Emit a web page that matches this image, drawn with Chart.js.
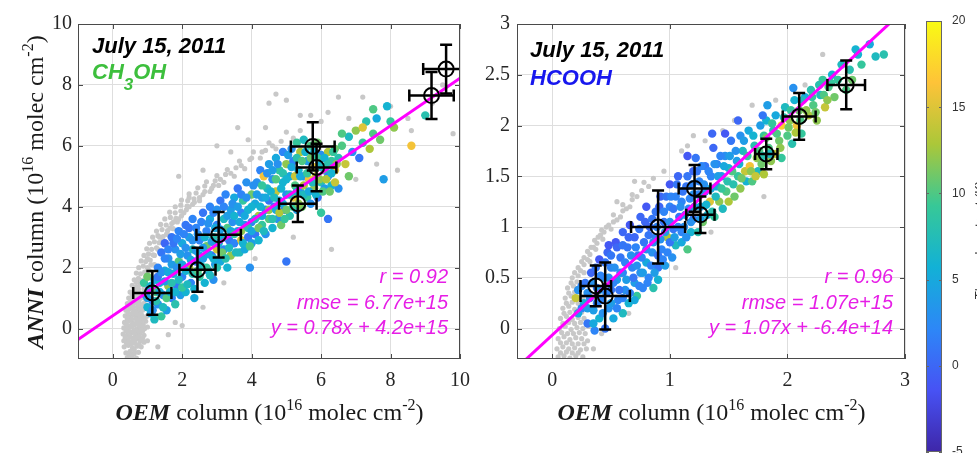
<!DOCTYPE html>
<html>
<head>
<meta charset="utf-8">
<script src="https://cdn.jsdelivr.net/npm/chart.js@4.4.1/dist/chart.umd.min.js"></script>
<style>
  body { margin: 0; background: #fff; width: 977px; height: 453px; overflow: hidden; position: relative; }
  canvas { position: absolute; top: 0; }
  #leftChart { left: 0; }
  #rightChart { left: 480px; }
  #cbar { left: 920px; }
</style>
</head>
<body>
<canvas id="leftChart" width="480" height="453"></canvas>
<canvas id="rightChart" width="440" height="453"></canvas>
<canvas id="cbar" width="57" height="453"></canvas>
<script>
// ---- CH3OH panel (values in 1e16 molec cm-2) ----
// colored retrievals: [OEM, ANNI, thermal contrast K]
const ch3ohCloud = [
  [0.9,1.5,9],[0.95,1.1,3],[1.0,0.7,6],[1.0,1.7,11],[1.05,1.3,2],[1.1,0.5,5],[1.15,0.9,1],[1.2,1.6,4],[1.2,0.3,7],[1.25,1.2,10],
  [1.3,2.0,2],[1.3,0.8,3],[1.35,1.5,6],[1.4,2.5,1],[1.4,0.4,9],[1.45,1.1,2],[1.5,1.9,5],[1.5,2.8,0],[1.55,0.6,4],[1.6,1.4,12],[1.6,2.3,3],
  [1.7,1.0,2],[1.7,3.0,1],[1.75,1.8,6],[1.8,2.6,3],[1.8,0.8,8],[1.85,1.4,1],[1.9,2.2,10],[1.9,3.2,2],[1.95,1.1,4],[2.0,2.8,5],[2.0,1.7,2],
  [2.1,3.4,1],[2.1,1.2,6],[2.15,2.4,3],[2.2,2.0,13],[2.2,3.0,4],[2.25,1.5,2],[2.3,3.6,2],[2.3,2.6,7],[2.35,1.0,5],[2.4,2.2,1],[2.45,3.1,3],[2.5,1.7,9],[2.5,2.9,2],
  [2.6,3.8,1],[2.6,2.3,4],[2.65,1.5,6],[2.7,3.2,2],[2.7,2.7,11],[2.75,1.9,3],[2.8,3.6,5],[2.8,4.0,2],[2.85,2.4,1],[2.9,3.0,8],[2.9,1.6,3],[2.95,2.1,4],[3.0,3.4,2],[3.0,2.6,14],
  [3.1,4.2,1],[3.1,2.2,5],[3.15,3.0,3],[3.2,3.6,7],[3.2,2.6,2],[3.25,4.4,2],[3.3,3.3,10],[3.3,2.0,6],[3.35,2.9,1],[3.4,3.9,4],[3.4,2.4,12],[3.45,3.5,3],[3.5,4.3,5],[3.5,2.8,2],
  [3.6,3.2,4],[3.6,4.6,1],[3.65,2.5,7],[3.7,3.8,2],[3.7,2.9,15],[3.75,4.2,9],[3.8,3.4,3],[3.8,2.6,5],[3.85,4.8,3],[3.9,3.0,1],[3.9,3.9,6],[3.95,2.0,3],[4.0,4.4,11],[4.0,3.5,2],[4.0,2.8,4],
  [4.1,4.1,5],[4.1,3.1,1],[4.15,4.8,3],[4.2,3.7,13],[4.2,2.9,6],[4.25,5.2,2],[4.3,4.3,4],[4.3,3.4,9],[4.35,5.0,16],[4.4,3.9,2],[4.4,3.1,3],[4.45,4.6,7],[4.5,5.4,4],[4.5,3.6,10],[4.5,4.2,1],
  [4.6,4.9,3],[4.6,3.3,6],[4.65,4.0,2],[4.7,5.6,5],[4.7,4.5,14],[4.75,3.6,3],[4.8,5.2,9],[4.8,4.2,4],[4.85,3.4,11],[4.9,5.8,2],[4.9,4.8,6],[4.95,3.9,1],[5.0,5.4,12],[5.0,4.4,3],[5.0,2.2,1],
  [5.1,5.0,5],[5.1,3.7,8],[5.15,5.9,3],[5.2,4.3,15],[5.2,5.5,2],[5.25,4.7,10],[5.3,6.1,9],[5.3,3.9,4],[5.35,5.2,6],[5.4,4.5,2],[5.4,5.8,13],[5.45,4.0,11],[5.5,5.0,3],[5.5,6.2,7],
  [5.6,4.3,9],[5.6,5.5,4],[5.65,4.9,16],[5.7,6.0,10],[5.7,4.1,3],[5.75,5.3,2],[5.8,4.6,12],[5.8,5.8,6],[5.85,5.0,14],[5.9,4.3,1],[5.9,6.1,11],[5.95,5.4,5],[6.0,4.8,8],[6.0,5.7,3],
  [6.1,5.2,10],[6.1,4.6,4],[6.2,5.8,13],[6.2,5.0,2],[6.3,5.5,9],[6.3,4.7,6],[6.4,5.9,11],[6.4,5.2,15],[6.5,4.6,3],[6.5,5.6,8],[6.2,3.6,1],[6.0,3.8,9],
  [6.6,6.0,10],[6.7,5.4,14],[6.8,6.3,7],[6.8,5.0,11],[6.9,5.8,3],[7.0,6.5,12],[7.1,5.6,1],[7.2,6.1,9],[7.3,6.8,8],[7.4,5.9,13],[7.5,6.4,10],[7.6,6.9,5],
  [7.7,6.2,11],[7.8,4.9,4],[7.9,7.3,6],[8.0,6.8,9],[8.1,6.6,12],[8.6,6.0,16],[9.0,7.0,8],[7.2,6.6,15],[6.6,6.4,10],[7.5,7.2,10],
  [1.0,1.0,4],[1.1,1.4,6],[1.15,0.6,3],[1.25,0.9,8],[1.3,1.7,1],[1.35,1.2,5],[1.4,1.85,3],[1.45,0.7,7],[1.5,1.55,4],[1.5,2.3,2],[1.55,1.0,10],[1.6,1.85,5],
  [1.6,2.6,2],[1.65,1.2,6],[1.7,2.1,4],[1.7,1.5,8],[1.75,2.8,1],[1.8,1.2,6],[1.85,2.0,3],[1.85,2.95,2],[1.9,1.6,7],[1.95,2.45,4],[2.0,1.35,9],[2.0,2.1,5],
  [2.05,3.1,2],[2.1,1.9,6],[2.1,2.65,3],[2.15,1.45,7],[2.2,3.3,1],[2.25,2.25,5],[2.3,1.8,8],[2.3,2.9,3],[2.35,1.3,6],[2.4,2.55,4],[2.4,3.3,2],[2.45,1.9,10],
  [2.5,2.4,5],[2.55,3.5,2],[2.55,2.05,7],[2.6,2.65,4],[2.65,3.0,6],[2.7,2.0,9],[2.75,2.45,5],[2.75,3.45,3],[2.8,1.75,7],[2.85,2.85,4],[2.9,3.8,2],[2.9,2.3,6],
  [2.95,3.3,5],[3.0,2.0,8],[3.0,3.9,3],[3.05,2.8,6],[3.1,3.25,4],[3.15,2.5,11],[3.2,4.0,2],[3.2,3.0,6],[3.25,2.3,8],[3.3,3.7,4],[3.35,2.65,7],[3.4,3.2,5],
  [3.45,4.1,3],[3.5,3.7,6],[3.5,3.1,9],[3.55,2.5,7],[3.6,4.0,4],[3.65,3.5,5],[3.7,4.4,2],[3.7,3.2,12],[3.75,2.8,6],[3.8,3.7,5],[3.85,4.3,3],[3.9,3.3,8],
  [3.95,2.7,10],[4.0,4.0,6],[4.0,3.2,5],[4.05,4.7,3],[4.1,3.6,7],[4.15,4.4,4],[4.2,3.3,11],[4.25,4.0,6],[4.3,3.7,5],[4.3,4.7,9],[4.35,3.2,7],[4.4,4.3,5],
  [4.45,5.1,3],[4.5,3.9,12],[4.55,4.5,6],[4.6,3.6,8],[4.6,5.2,4],[4.65,4.3,7],[4.7,3.9,5],[4.7,4.9,10],[4.75,5.4,3],[4.8,3.8,13],[4.85,4.6,6],[4.9,5.1,8],
  [4.9,4.1,5],[4.95,3.6,9],[5.0,4.9,6],[5.0,3.9,11],[5.05,5.7,4],[5.1,4.4,7],[5.15,5.3,5],[5.2,4.0,9],[5.25,5.0,14],[5.3,4.5,6],[5.3,5.6,8],[5.35,4.1,12],
  [5.4,5.0,5],[5.45,5.5,10],[5.5,4.4,7],[5.5,4.7,13],[5.55,5.8,6],[5.6,5.1,9],[5.65,4.5,5],[5.7,5.6,11],[5.75,4.8,7],[5.8,5.3,15],[5.85,4.4,6],[5.9,5.6,9],
  [5.95,4.9,12],[6.0,5.3,7],[6.05,4.5,10],[6.1,5.6,6],[6.15,4.9,13],[6.2,5.4,8],[6.25,4.5,11],[6.3,5.1,6],[6.35,5.8,9],[6.4,4.8,14],[6.45,5.4,12]
];
// retrievals without thermal contrast (gray): [OEM, ANNI]
const ch3ohGray = [
  [0.42,-0.95],[0.55,-0.9],[0.68,-0.97],[0.38,-0.8],[0.5,-0.75],[0.62,-0.82],[0.74,-0.78],
  [0.33,-0.6],[0.45,-0.55],[0.57,-0.63],[0.7,-0.58],[0.82,-0.6],[0.32,-0.4],[0.44,-0.38],[0.56,-0.42],[0.68,-0.35],[0.8,-0.4],[0.9,-0.45],
  [0.3,-0.18],[0.42,-0.22],[0.54,-0.15],[0.66,-0.2],[0.78,-0.17],[0.9,-0.22],[0.32,0.02],[0.44,0.0],[0.56,0.05],[0.68,-0.02],[0.8,0.03],[0.92,0.0],[1.0,0.05],
  [0.34,0.2],[0.46,0.25],[0.58,0.18],[0.7,0.22],[0.82,0.2],[0.95,0.24],[0.36,0.42],[0.48,0.38],[0.6,0.45],[0.72,0.4],[0.84,0.43],[0.98,0.4],
  [0.38,0.6],[0.5,0.65],[0.62,0.58],[0.74,0.62],[0.86,0.6],[0.42,0.82],[0.54,0.78],[0.66,0.85],[0.78,0.8],[0.9,0.83],
  [0.46,1.0],[0.58,1.05],[0.7,0.98],[0.82,1.02],[0.5,1.2],[0.62,1.25],[0.74,1.18],[0.56,1.42],[0.68,1.38],[0.8,1.45],
  [0.62,1.6],[0.74,1.65],[0.86,1.58],[0.68,1.82],[0.8,1.8],[0.92,1.85],[0.75,2.0],[0.88,2.05],[1.0,2.0],[0.82,2.22],[0.95,2.2],[1.08,2.25],
  [0.9,2.4],[1.03,2.45],[1.16,2.42],[0.98,2.62],[1.12,2.6],[1.26,2.65],[1.06,2.8],[1.2,2.85],[1.34,2.82],
  [1.15,3.0],[1.3,3.05],[1.45,3.02],[1.6,3.08],[1.26,3.2],[1.42,3.25],[1.58,3.22],[1.74,3.28],[1.38,3.42],[1.54,3.4],[1.7,3.45],[1.86,3.5],
  [1.5,3.6],[1.66,3.65],[1.82,3.62],[1.98,3.7],[1.64,3.82],[1.8,3.8],[1.96,3.86],[2.12,3.9],[1.8,4.0],[1.96,4.05],[2.14,4.02],[2.3,4.08],
  [1.98,4.22],[2.16,4.2],[2.34,4.26],[2.5,4.3],[2.2,4.42],[2.4,4.45],[2.6,4.4],[2.8,4.5],[2.45,4.62],[2.65,4.68],[2.85,4.6],[3.05,4.7],
  [2.7,4.82],[2.95,4.85],[3.2,4.8],[3.0,5.02],[3.25,5.06],[3.5,5.0],[3.3,5.22],[3.55,5.28],[3.8,5.25],[3.65,5.5],[3.95,5.55],[4.25,5.6],
  [4.05,5.8],[4.4,5.85],[4.7,5.9],[4.5,6.1],[4.85,6.15],[5.2,6.25],[5.0,6.45],[5.4,6.5],
  [1.9,5.0],[2.6,5.2],[3.0,6.0],[3.6,6.6],[4.5,7.4],[5.0,7.5],[5.4,7.0],[6.0,6.8],[6.5,7.6],[7.2,7.6],[8.0,7.3],[9.5,8.0],[8.6,6.5],[9.8,6.4],
  [7.6,5.4],[8.2,5.2],[6.3,2.6],[4.1,2.3],[3.2,1.5],[2.6,0.7],[1.8,0.2],[1.6,-0.2],[1.0,-0.4],[1.3,-0.6],[4.7,7.7],[3.4,5.8],[6.8,6.9],
  [2.2,4.3],[5.7,7.0],[6.2,7.1],[4.4,6.6],[3.9,6.2],[2.0,0.1],[5.2,3.0],[7.0,4.9],[8.5,6.9],[9.2,7.4],
  [0.48,-0.85],[0.62,-0.7],[0.4,-0.48],[0.52,-0.5],[0.64,-0.48],[0.76,-0.52],[0.36,-0.3],[0.5,-0.28],[0.62,-0.3],[0.74,-0.27],[0.86,-0.32],
  [0.38,-0.08],[0.5,-0.1],[0.62,-0.07],[0.74,-0.1],[0.86,-0.08],[0.4,0.12],[0.52,0.1],[0.64,0.13],[0.76,0.1],[0.88,0.12],
  [0.42,0.32],[0.54,0.3],[0.66,0.33],[0.78,0.3],[0.9,0.32],[0.44,0.52],[0.56,0.5],[0.68,0.53],[0.8,0.5],[0.48,0.72],[0.6,0.7],[0.72,0.73],[0.84,0.7],
  [0.52,0.92],[0.64,0.9],[0.76,0.93],[0.56,1.12],[0.68,1.1],[0.8,1.13],[0.62,1.32],[0.74,1.3],[0.68,1.52],[0.8,1.52],
  [1.0,2.3],[1.1,2.1],[1.2,2.4],[1.3,2.6],[1.35,3.0],[1.45,2.9],[1.55,3.1],[1.65,3.3],[1.75,3.5],[1.9,3.6],[2.05,3.8],[2.2,4.0],[2.35,4.15],
  [2.5,4.2],[2.65,4.5],[2.9,4.7],[3.1,4.9],[3.4,5.1],[3.7,5.35],[4.0,5.6],[4.3,5.8],[4.6,6.0],[0.95,1.7],[0.9,1.3],[1.05,1.9],[1.2,2.1],[0.9,1.0],[0.95,0.75]
];
const ch3ohMeanX = [1.14, 2.44, 3.05, 5.33, 5.76, 5.87, 9.18, 9.6];
const ch3ohMeanY = [1.17, 1.93, 3.08, 4.1, 5.98, 5.29, 7.65, 8.52];
const ch3ohErrX = [0.55, 0.52, 0.64, 0.54, 0.63, 0.57, 0.64, 0.66];
const ch3ohErrY = [0.72, 0.72, 0.75, 0.6, 0.79, 0.78, 0.77, 0.8];
const ch3ohFitX = [-1, 10];
const ch3ohFitY = [-0.36, 8.22];
const ch3ohStats = ['r = 0.92', 'rmse = 6.77e+15', 'y = 0.78x + 4.2e+15'];

// ---- HCOOH panel ----
const hcoohCloud = [
  [0.2,0.3,14],[0.22,0.15,5],[0.25,0.42,2],[0.27,0.25,6],[0.3,0.05,1],[0.3,0.35,3],
  [0.33,0.55,0],[0.35,0.18,4],[0.36,-0.02,2],[0.38,0.4,1],[0.4,0.68,-1],[0.4,0.1,6],[0.42,0.28,2],[0.44,0.5,3],[0.45,0.0,1],
  [0.47,0.75,0],[0.48,0.2,3],[0.5,0.38,1],[0.5,0.6,2],[0.52,0.1,5],[0.54,0.85,-1],[0.55,0.48,4],[0.56,0.28,2],[0.58,0.7,1],[0.6,0.95,0],[0.6,0.15,7],[0.6,0.55,2],
  [0.62,0.38,3],[0.64,0.8,1],[0.65,0.25,6],[0.66,1.02,-1],[0.68,0.6,2],[0.7,0.45,4],[0.7,0.9,0],[0.72,0.32,9],[0.73,0.72,1],[0.75,1.1,0],[0.75,0.55,3],
  [0.77,0.4,2],[0.78,0.85,1],[0.8,0.65,5],[0.8,1.2,-1],[0.82,0.5,2],[0.83,1.0,0],[0.85,0.75,3],[0.86,0.4,8],[0.88,1.15,1],[0.88,0.9,2],[0.9,0.6,1],[0.9,0.48,6],
  [0.92,1.3,0],[0.93,0.78,2],[0.95,1.05,1],[0.96,0.62,4],[0.98,0.9,13],[1.0,1.42,-1],[1.0,1.2,2],[1.02,0.7,3],[1.03,0.98,1],[1.05,1.3,2],[1.05,0.82,7],
  [1.07,1.5,0],[1.08,1.1,1],[1.1,0.85,5],[1.1,1.25,2],[1.12,1.0,3],[1.14,1.4,1],[1.15,0.78,10],[1.16,1.18,2],[1.18,0.95,6],[1.2,1.55,0],[1.2,1.32,3],[1.2,1.08,1],
  [1.22,1.68,1],[1.24,0.95,8],[1.25,1.45,2],[1.26,1.2,4],[1.28,1.05,11],[1.3,1.6,1],[1.3,1.35,3],[1.32,1.12,6],[1.34,1.25,15],[1.35,1.5,2],
  [1.37,1.78,0],[1.38,1.1,9],[1.4,1.4,5],[1.4,1.62,2],[1.42,1.25,12],[1.44,1.5,4],[1.45,1.18,7],[1.47,1.7,3],[1.48,1.35,10],[1.5,1.58,6],[1.5,1.25,13],
  [1.52,1.85,1],[1.54,1.42,8],[1.55,1.3,11],[1.57,1.65,4],[1.58,1.5,9],[1.6,1.9,3],[1.6,1.38,12],[1.62,1.75,7],[1.64,1.55,14],[1.65,1.45,6],
  [1.67,1.95,5],[1.68,1.6,16],[1.7,1.45,10],[1.72,1.8,8],[1.74,1.68,12],[1.75,1.55,7],[1.77,2.0,4],[1.78,1.62,11],[1.8,1.9,9],[1.8,1.52,13],
  [1.82,2.05,6],[1.84,1.78,10],[1.86,1.65,12],[1.88,1.95,8],[1.9,2.1,5],[1.9,1.72,14],[1.93,1.85,11],[1.95,2.0,17],[1.95,1.68,9],
  [1.98,2.18,7],[2.0,1.9,10],[2.02,2.05,12],[2.04,1.82,8],[2.06,2.25,6],[2.08,2.0,16],[2.1,2.15,11],[2.12,1.92,9],[2.15,2.28,5],
  [2.18,2.1,13],[2.2,2.35,8],[2.22,2.2,10],[2.25,2.05,12],[2.28,2.3,7],[2.3,2.45,9],[2.32,2.18,14],[2.35,2.38,10],[2.38,2.5,6],[2.4,2.28,11],
  [2.43,2.45,9],[2.46,2.6,7],[2.5,2.35,10],[2.53,2.55,8],[2.55,2.45,11],[2.6,2.7,6],[2.63,2.6,9],[2.7,2.8,5],[2.75,2.68,7],[2.82,2.7,8],[2.58,2.75,6],
  [1.36,1.92,0],[1.47,1.92,-1],[1.58,2.05,0],[1.79,2.1,1],[1.83,2.2,4],[2.05,2.37,3],[1.15,1.7,-1],[0.48,0.82,-1],
  [0.22,0.38,3],[0.25,0.2,2],[0.28,0.45,1],[0.3,0.2,4],[0.32,0.3,2],[0.34,0.45,3],[0.35,0.05,5],[0.37,0.6,1],[0.38,0.25,2],[0.4,0.38,4],[0.41,0.52,2],
  [0.43,0.15,3],[0.45,0.65,1],[0.46,0.35,2],[0.48,0.5,3],[0.5,0.25,4],[0.5,0.72,1],[0.52,0.45,2],[0.53,0.6,3],[0.55,0.2,2],[0.55,0.8,0],[0.57,0.38,1],
  [0.58,0.55,3],[0.6,0.3,2],[0.6,0.82,1],[0.62,0.65,2],[0.63,0.48,4],[0.65,0.9,0],[0.66,0.35,2],[0.67,0.72,3],[0.69,0.5,1],[0.7,0.28,5],[0.71,0.8,2],
  [0.72,0.62,3],[0.74,0.42,2],[0.74,0.98,1],[0.76,0.7,2],[0.77,0.55,4],[0.79,1.05,0],[0.8,0.78,3],[0.81,0.45,2],[0.82,0.92,1],[0.84,0.62,2],[0.85,1.08,1],
  [0.86,0.85,3],[0.87,0.55,4],[0.89,1.0,2],[0.9,0.72,1],[0.91,1.2,0],[0.92,0.88,3],[0.94,0.68,2],[0.95,1.15,2],[0.96,0.95,4],[0.97,1.3,1],[0.98,0.75,2],
  [1.0,1.05,3],[1.0,0.85,1],[1.01,1.3,2],[1.03,1.18,1],[1.04,0.9,4],[1.06,1.42,1],[1.07,1.0,2],[1.09,1.2,3],[1.1,0.95,2],[1.11,1.35,1],[1.13,1.12,4],
  [1.14,0.9,3],[1.15,1.5,1],[1.17,1.28,2],[1.18,1.05,3],[1.19,1.42,2],[1.21,1.2,5],[1.23,1.55,1],[1.24,1.32,2],[1.26,1.08,4],[1.27,1.6,2],[1.29,1.42,3],
  [1.31,1.22,6],[1.33,1.55,2],[1.35,1.38,5],[1.36,1.15,8],[1.38,1.62,3],[1.39,1.3,7],[1.41,1.5,4],[1.43,1.7,2],[1.44,1.38,9],[1.46,1.6,5],[1.49,1.45,8],
  [1.51,1.7,4],[1.53,1.55,10],[1.56,1.75,3],[1.59,1.62,6],[1.61,1.48,11],[1.63,1.85,4],[1.66,1.7,9],[1.69,1.55,12],[1.71,1.9,6],[1.73,1.5,14],[1.76,1.75,10],
  [1.79,1.7,8],[1.82,1.88,11],[1.85,1.72,7],[1.87,2.02,9],[1.91,1.92,10],[1.94,1.78,12],[1.97,2.08,8],[2.01,1.98,11],[2.03,2.15,9],[2.07,1.93,13],[2.11,2.05,10],
  [2.13,2.25,7],[2.16,2.15,12],[2.21,2.28,9],[2.24,2.13,11],[2.27,2.4,8],[2.31,2.3,10],[2.34,2.25,12],[2.37,2.42,9]
];
const hcoohGray = [
  [0.05,-0.28],[0.1,-0.27],[0.15,-0.29],[0.2,-0.27],[0.26,-0.28],[0.04,-0.2],[0.09,-0.18],[0.14,-0.2],[0.19,-0.19],[0.24,-0.21],[0.29,-0.2],
  [0.05,-0.1],[0.1,-0.08],[0.15,-0.11],[0.2,-0.09],[0.25,-0.1],[0.3,-0.12],[0.06,0.0],[0.11,0.02],[0.16,-0.01],[0.21,0.01],[0.26,0.0],[0.31,0.02],
  [0.07,0.1],[0.12,0.12],[0.17,0.09],[0.22,0.11],[0.27,0.1],[0.09,0.2],[0.14,0.22],[0.19,0.19],[0.24,0.21],[0.11,0.3],[0.16,0.32],[0.21,0.29],[0.26,0.31],
  [0.13,0.4],[0.18,0.42],[0.23,0.39],[0.28,0.45],[0.17,0.5],[0.22,0.52],[0.27,0.55],[0.22,0.6],[0.27,0.63],[0.32,0.66],[0.27,0.7],[0.32,0.73],[0.37,0.78],
  [0.33,0.8],[0.38,0.84],[0.43,0.88],[0.39,0.9],[0.44,0.95],[0.5,0.98],[0.46,1.0],[0.52,1.05],[0.58,1.1],[0.52,1.12],[0.6,1.16],[0.66,1.2],
  [0.6,1.22],[0.68,1.27],[0.68,1.32],[0.76,1.36],[0.78,1.44],[0.86,1.48],
  [0.55,1.25],[0.7,1.45],[0.95,1.55],[1.1,1.75],[1.2,1.9],[1.3,1.85],[1.55,2.05],[1.45,1.95],[1.7,2.2],[2.3,2.7],[1.9,2.25],[1.05,0.6],
  [1.35,0.95],[0.65,0.15],[2.15,2.4],[1.15,1.8],[1.26,1.35],[1.8,1.3],[0.42,-0.05],[0.35,-0.2],
  [0.07,-0.24],[0.12,-0.23],[0.17,-0.24],[0.22,-0.24],[0.07,-0.14],[0.12,-0.14],[0.17,-0.15],[0.22,-0.15],[0.27,-0.15],[0.08,-0.04],[0.13,-0.05],
  [0.18,-0.05],[0.23,-0.04],[0.28,-0.05],[0.09,0.05],[0.14,0.06],[0.19,0.05],[0.24,0.06],[0.29,0.06],[0.1,0.15],[0.15,0.16],[0.2,0.15],[0.25,0.16],
  [0.12,0.25],[0.17,0.26],[0.22,0.25],[0.14,0.35],[0.19,0.36],[0.16,0.45],[0.21,0.46],[0.19,0.55],[0.24,0.57],[0.25,0.66],[0.3,0.68],[0.3,0.76],
  [0.35,0.8],[0.36,0.87],[0.41,0.92],[0.42,0.97],[0.48,1.02],[0.55,1.07],[0.63,1.18],[0.72,1.3],[0.82,1.4]
];
const hcoohMeanX = [0.37, 0.45, 0.9, 1.21, 1.26, 1.82, 2.1, 2.5];
const hcoohMeanY = [0.42, 0.32, 1.0, 1.38, 1.12, 1.72, 2.09, 2.4];
const hcoohErrX = [0.13, 0.21, 0.23, 0.135, 0.12, 0.095, 0.14, 0.16];
const hcoohErrY = [0.2, 0.33, 0.36, 0.23, 0.18, 0.15, 0.23, 0.24];
const hcoohFitX = [-0.3, 3];
const hcoohFitY = [-0.385, 3.146];
const hcoohStats = ['r = 0.96', 'rmse = 1.07e+15', 'y = 1.07x + -6.4e+14'];

// ---- tick labels ----
const ch3ohTicks = [0, 2, 4, 6, 8, 10];
const hcoohXTicks = [0, 1, 2, 3];
const hcoohYTicks = [0, 0.5, 1, 1.5, 2, 2.5, 3];
const cbarTicks = [-5, 0, 5, 10, 15, 20];

const SERIF = '"Liberation Serif", "Times New Roman", serif';
const SANS = '"Liberation Sans", Arial, sans-serif';
// parula(8)
const parulaStops = ['#3e26a8', '#4752f4', '#2d87f7', '#12b1d6', '#37c897', '#abc739', '#fec338', '#f9fb14'];

function hexRgb(h) {
  return [1, 3, 5].map(i => parseInt(h.slice(i, i + 2), 16));
}
function parula(t) {
  let f = (t - cbarTicks[0]) / (cbarTicks[cbarTicks.length - 1] - cbarTicks[0]);
  f = Math.max(0, Math.min(1, f)) * (parulaStops.length - 1);
  const i = Math.min(Math.floor(f), parulaStops.length - 2);
  const a = hexRgb(parulaStops[i]), b = hexRgb(parulaStops[i + 1]), k = f - i;
  const c = a.map((v, j) => Math.round(v + (b[j] - v) * k));
  return `rgb(${c[0]},${c[1]},${c[2]})`;
}

// draws a run of text pieces [text, font, dy] as one line
function drawParts(ctx, parts, x, y, align) {
  let w = 0;
  parts.forEach(p => { ctx.font = p[1]; w += ctx.measureText(p[0]).width; });
  let cx = align === 'center' ? x - w / 2 : align === 'right' ? x - w : x;
  ctx.textAlign = 'left';
  ctx.textBaseline = 'alphabetic';
  parts.forEach(p => {
    ctx.font = p[1];
    ctx.fillText(p[0], cx, y + (p[2] || 0));
    cx += ctx.measureText(p[0]).width;
  });
}

function axisLabel(name) {
  const big = `24px ${SERIF}`, sup = `16px ${SERIF}`;
  return [[name, `bold italic 24px ${SERIF}`], [' column (10', big], ['16', sup, -10],
          [' molec cm', big], ['-2', sup, -10], [')', big]];
}

function makeDecor(o) {
  return {
    id: 'decor_' + o.id,
    afterDatasetsDraw(chart) {
      const { ctx, chartArea: a, scales: { x, y } } = chart;
      ctx.save();
      ctx.beginPath();
      ctx.rect(a.left, a.top, a.right - a.left, a.bottom - a.top);
      ctx.clip();
      ctx.strokeStyle = '#000';
      ctx.lineWidth = 2.5;
      o.meanX.forEach((mx, i) => {
        const px = x.getPixelForValue(mx), py = y.getPixelForValue(o.meanY[i]);
        const x0 = x.getPixelForValue(mx - o.errX[i]), x1 = x.getPixelForValue(mx + o.errX[i]);
        const y0 = y.getPixelForValue(o.meanY[i] - o.errY[i]), y1 = y.getPixelForValue(o.meanY[i] + o.errY[i]);
        ctx.beginPath();
        ctx.moveTo(x0, py); ctx.lineTo(x1, py);
        ctx.moveTo(x0, py - 6); ctx.lineTo(x0, py + 6);
        ctx.moveTo(x1, py - 6); ctx.lineTo(x1, py + 6);
        ctx.moveTo(px, y0); ctx.lineTo(px, y1);
        ctx.moveTo(px - 6, y0); ctx.lineTo(px + 6, y0);
        ctx.moveTo(px - 6, y1); ctx.lineTo(px + 6, y1);
        ctx.stroke();
      });
      ctx.restore();
    },
    afterDraw(chart) {
      const { ctx, chartArea: a, scales: { x, y } } = chart;
      ctx.save();
      // axes box with inward ticks
      ctx.strokeStyle = '#4a4a4a';
      ctx.lineWidth = 1;
      ctx.strokeRect(a.left + 0.5, a.top + 0.5, a.right - a.left - 1, a.bottom - a.top - 1);
      ctx.beginPath();
      o.xTicks.forEach(v => {
        const p = Math.round(x.getPixelForValue(v)) + 0.5;
        ctx.moveTo(p, a.bottom); ctx.lineTo(p, a.bottom - 5);
        ctx.moveTo(p, a.top); ctx.lineTo(p, a.top + 5);
      });
      o.yTicks.forEach(v => {
        const p = Math.round(y.getPixelForValue(v)) + 0.5;
        ctx.moveTo(a.left, p); ctx.lineTo(a.left + 5, p);
        ctx.moveTo(a.right, p); ctx.lineTo(a.right - 5, p);
      });
      ctx.stroke();

      // date and species
      ctx.fillStyle = '#000';
      drawParts(ctx, [['July 15, 2011', `bold italic 22px ${SANS}`]], o.titleX, o.titleY, 'left');
      ctx.fillStyle = o.speciesColor;
      drawParts(ctx, o.species, o.titleX, o.speciesY, 'left');

      // fit statistics
      ctx.fillStyle = '#e61ee6';
      o.stats.forEach((s, i) => drawParts(ctx, [[s, `italic 20px ${SANS}`]], a.right - 12, 283 + i * 25.5, 'right'));

      // axis titles
      ctx.fillStyle = '#1a1a1a';
      drawParts(ctx, axisLabel('OEM'), (a.left + a.right) / 2 + 0.5, 420, 'center');
      if (o.yName) {
        ctx.translate(43, (a.top + a.bottom) / 2 + 0.5);
        ctx.rotate(-Math.PI / 2);
        drawParts(ctx, axisLabel(o.yName), 0, 0, 'center');
      }
      ctx.restore();
    }
  };
}

function panelChart(o) {
  const pts = (xs, ys) => xs.map((v, i) => ({ x: v, y: ys[i] }));
  const tickFont = { family: SERIF, size: 20 };
  return new Chart(document.getElementById(o.id), {
    type: 'scatter',
    data: {
      datasets: [
        { data: pts(o.meanX, o.meanY), pointRadius: 7.5, pointBorderWidth: 2,
          pointBorderColor: '#000', pointBackgroundColor: 'rgba(0,0,0,0)', clip: 0 },
        { type: 'line', data: pts(o.fitX, o.fitY), borderColor: '#ff00ff', borderWidth: 3,
          pointRadius: 0, fill: false, clip: 0 },
        { data: o.cloud.map(p => ({ x: p[0], y: p[1] })), pointRadius: 4.2, pointBorderWidth: 0,
          pointBackgroundColor: o.cloud.map(p => parula(p[2])), clip: 0 },
        { data: o.gray.map(p => ({ x: p[0], y: p[1] })), pointRadius: 2.6, pointBorderWidth: 0,
          pointBackgroundColor: '#c8c8c8', clip: 0 }
      ]
    },
    options: {
      responsive: false,
      animation: false,
      events: [],
      layout: { padding: { top: 24, right: 14, left: 0, bottom: 0 } },
      plugins: { legend: { display: false }, tooltip: { enabled: false } },
      scales: {
        x: {
          min: o.xMin, max: o.xMax,
          afterBuildTicks: s => { s.ticks = o.xTicks.map(v => ({ value: v })); },
          afterFit: s => { s.height = 94; },
          grid: { color: '#dedede', drawTicks: false },
          border: { display: false },
          ticks: { padding: 10, font: tickFont, color: '#262626', callback: v => String(v) }
        },
        y: {
          min: o.yMin, max: o.yMax,
          afterBuildTicks: s => { s.ticks = o.yTicks.map(v => ({ value: v })); },
          afterFit: s => { s.width = o.yAxisWidth; },
          grid: { color: '#dedede', drawTicks: false },
          border: { display: false },
          ticks: { padding: o.yPad, font: tickFont, color: '#262626', callback: v => String(v) }
        }
      }
    },
    plugins: [makeDecor(o)]
  });
}

panelChart({
  id: 'leftChart', cloud: ch3ohCloud, gray: ch3ohGray,
  meanX: ch3ohMeanX, meanY: ch3ohMeanY, errX: ch3ohErrX, errY: ch3ohErrY,
  fitX: ch3ohFitX, fitY: ch3ohFitY, stats: ch3ohStats,
  xMin: -1, xMax: 10, yMin: -1, yMax: 10, xTicks: ch3ohTicks, yTicks: ch3ohTicks,
  yAxisWidth: 78, yPad: 6, yName: 'ANNI',
  titleX: 92, titleY: 53, speciesY: 79, speciesColor: '#3dbf3d',
  species: [['CH', `bold italic 22px ${SANS}`], ['3', `bold italic 17px ${SANS}`, 11], ['OH', `bold italic 22px ${SANS}`]]
});

panelChart({
  id: 'rightChart', cloud: hcoohCloud, gray: hcoohGray,
  meanX: hcoohMeanX, meanY: hcoohMeanY, errX: hcoohErrX, errY: hcoohErrY,
  fitX: hcoohFitX, fitY: hcoohFitY, stats: hcoohStats,
  xMin: -0.3, xMax: 3, yMin: -0.3, yMax: 3, xTicks: hcoohXTicks, yTicks: hcoohYTicks,
  yAxisWidth: 37, yPad: 7, yName: null,
  titleX: 50, titleY: 57, speciesY: 85, speciesColor: '#1717ee',
  species: [['HCOOH', `bold italic 22px ${SANS}`]]
});

// colorbar: parula ramp on a linear y scale
const colorbarPlugin = {
  id: 'colorbar',
  beforeDatasetsDraw(chart) {
    const { ctx, chartArea: a, scales: { y } } = chart;
    ctx.save();
    const g = ctx.createLinearGradient(0, a.bottom, 0, a.top);
    parulaStops.forEach((c, i) => g.addColorStop(i / (parulaStops.length - 1), c));
    ctx.fillStyle = g;
    ctx.fillRect(a.left, a.top, a.right - a.left, a.bottom - a.top);
    ctx.strokeStyle = '#666';
    ctx.lineWidth = 1;
    ctx.strokeRect(a.left + 0.5, a.top + 0.5, a.right - a.left - 1, a.bottom - a.top - 1);
    ctx.beginPath();
    cbarTicks.forEach(v => {
      const p = Math.round(y.getPixelForValue(v)) + 0.5;
      ctx.moveTo(a.right, p); ctx.lineTo(a.right - 3, p);
      ctx.moveTo(a.left, p); ctx.lineTo(a.left + 3, p);
    });
    ctx.stroke();
    ctx.fillStyle = '#333';
    ctx.font = `13px ${SANS}`;
    ctx.textAlign = 'center';
    ctx.textBaseline = 'top';
    ctx.translate(54, 240);
    ctx.rotate(-Math.PI / 2);
    ctx.fillText('Thermal contrast (K)', 0, 0);
    ctx.restore();
  }
};

new Chart(document.getElementById('cbar'), {
  type: 'scatter',
  data: { datasets: [] },
  options: {
    responsive: false,
    animation: false,
    events: [],
    layout: { padding: { top: 21, bottom: 1, left: 6, right: 0 } },
    plugins: { legend: { display: false }, tooltip: { enabled: false } },
    scales: {
      x: { display: false, min: 0, max: 1 },
      y: {
        position: 'right', min: -5, max: 20,
        afterBuildTicks: s => { s.ticks = cbarTicks.map(v => ({ value: v })); },
        afterFit: s => { s.width = 35; s.paddingTop = 0; s.paddingBottom = 0; },
        grid: { display: false },
        border: { display: false },
        ticks: { padding: 2, font: { family: SANS, size: 12 }, color: '#333' }
      }
    }
  },
  plugins: [colorbarPlugin]
});
</script>
</body>
</html>
